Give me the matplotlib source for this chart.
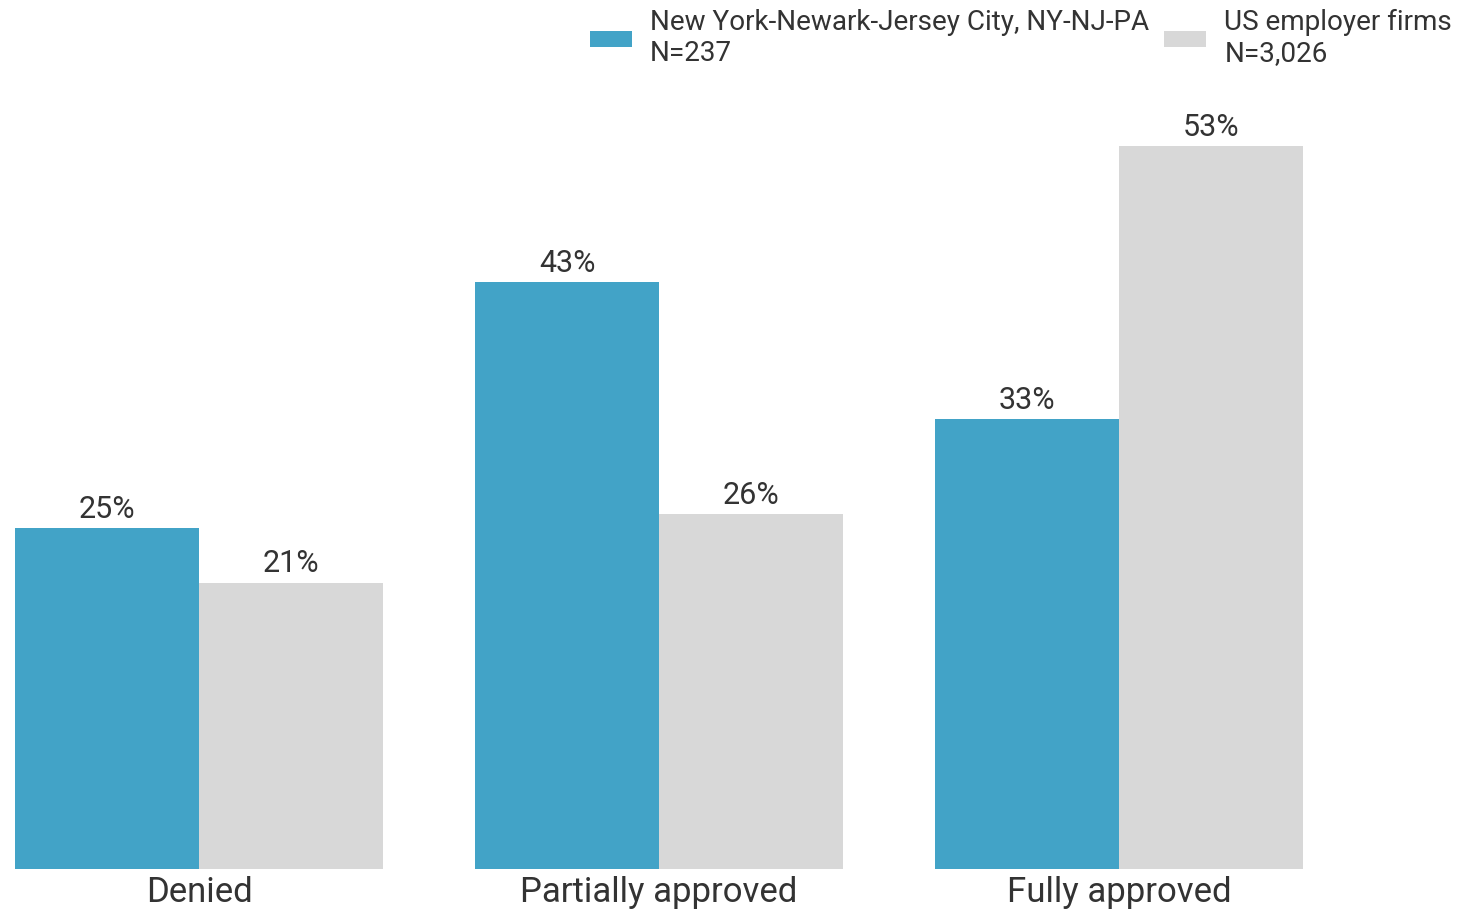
import matplotlib.pyplot as plt
import numpy as np

plt.rcParams["font.family"] = ["Roboto", "DejaVu Sans"]

CATEGORIES = ["Denied", "Partially approved", "Fully approved"]
NY_VALUES = [25, 43, 33]
US_VALUES = [21, 26, 53]
SERIES_LABELS = ["New York-Newark-Jersey City, NY-NJ-PA\nN=237", "US employer firms\nN=3,026"]
COLORS = ["#42a3c7", "#d8d8d8"]
TEXT_COLOR = "#333333"

fig = plt.figure(figsize=(14.58, 9.14), dpi=100)
ax = fig.add_axes([15 / 1458, 1 - 869 / 914, (1303 - 15) / 1458, 818.4 / 914])

x = np.arange(len(CATEGORIES))
w = 0.4
b1 = ax.bar(x - w / 2, NY_VALUES, w, color=COLORS[0], label=SERIES_LABELS[0])
b2 = ax.bar(x + w / 2, US_VALUES, w, color=COLORS[1], label=SERIES_LABELS[1])

for bars in (b1, b2):
    for rect in bars:
        h = rect.get_height()
        ax.annotate(f"{h:.0f}%", (rect.get_x() + rect.get_width() / 2, h),
                    xytext=(0, 3), textcoords="offset points",
                    ha="center", va="bottom", fontsize=22, color=TEXT_COLOR)

ax.set_xlim(-0.4, 2.4)
ax.set_ylim(0, 60)
ax.set_xticks(x)
ax.set_xticklabels(CATEGORIES, fontsize=25, color=TEXT_COLOR)
ax.tick_params(axis="x", length=0, pad=5)
ax.set_yticks([])
for s in ax.spines.values():
    s.set_visible(False)

fig.legend(loc="upper right", bbox_to_anchor=(1455 / 1458, 0.993), ncol=2,
           frameon=False, fontsize=20.1, labelcolor=TEXT_COLOR,
           handlelength=1.5, handleheight=0.5, handletextpad=0.65,
           columnspacing=0.55, borderaxespad=0.0, borderpad=0.1,
           labelspacing=0.2)

fig.savefig("out.png", dpi=100)
